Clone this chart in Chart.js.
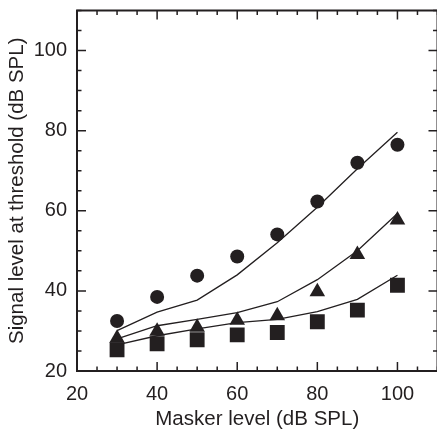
<!DOCTYPE html>
<html>
<head>
<meta charset="utf-8">
<script src="https://cdn.jsdelivr.net/npm/chart.js@4.4.1/dist/chart.umd.min.js"></script>
<style>
  html, body { margin: 0; padding: 0; background: #fff; overflow: hidden; }
  #wrap { width: 437px; height: 435px; overflow: hidden; }
  canvas { display: block; }
</style>
</head>
<body>
<div id="wrap"><canvas id="chart" width="448" height="435"></canvas></div>
<script>
// masker levels (dB SPL)
var masker = [30, 40, 50, 60, 70, 80, 90, 100];

// measured thresholds (symbols)
var circles   = [32.5, 38.5, 43.8, 48.6, 54.1, 62.3, 72.0, 76.5];
var triangles = [28.2, 29.9, 30.9, 32.7, 33.8, 39.8, 49.1, 57.7];
var squares   = [25.3, 26.8, 27.8, 29.0, 29.6, 32.3, 35.2, 41.4];

// model predictions (lines)
var modelUpper  = [30.1, 34.7, 37.7, 44.0, 52.0, 60.9, 70.5, 79.6];
var modelMiddle = [28.0, 31.3, 32.9, 34.6, 37.3, 42.8, 50.0, 59.3];
var modelLower  = [26.5, 28.8, 30.5, 32.1, 32.9, 34.8, 37.9, 43.9];

var xTicks = [20, 40, 60, 80, 100];
var yTicks = [20, 40, 60, 80, 100];

var INK = '#231f20';
var FONT = "'Liberation Sans', Arial, sans-serif";

function pts(ys) {
  return masker.map(function (x, i) { return { x: x, y: ys[i] }; });
}

function lineSet(ys) {
  return {
    type: 'line', data: pts(ys), borderColor: INK, borderWidth: 1.3,
    pointRadius: 0, fill: false, tension: 0, order: 2
  };
}

function markSet(ys, style, r) {
  return {
    type: 'scatter', data: pts(ys), pointStyle: style, pointRadius: r,
    pointHoverRadius: r, backgroundColor: INK, borderColor: INK,
    borderWidth: 0, showLine: false, order: 1
  };
}

// frame + inward major/minor tick marks on all four sides
var frameTicks = {
  id: 'frameTicks',
  afterDatasetsDraw: function (chart) {
    var ctx = chart.ctx, a = chart.chartArea;
    var sx = chart.scales.x, sy = chart.scales.y;
    ctx.save();
    ctx.strokeStyle = INK;
    ctx.lineWidth = 1.5;
    ctx.beginPath();
    for (var v = 20; v <= 110; v += 5) {
      var len = v % 20 === 0 ? 9 : 4.5;
      var px = sx.getPixelForValue(v);
      ctx.moveTo(px, a.bottom); ctx.lineTo(px, a.bottom - len);
      ctx.moveTo(px, a.top); ctx.lineTo(px, a.top + len);
      var py = sy.getPixelForValue(v);
      ctx.moveTo(a.left, py); ctx.lineTo(a.left + len, py);
      ctx.moveTo(a.right, py); ctx.lineTo(a.right - len, py);
    }
    ctx.stroke();
    ctx.lineWidth = 2;
    ctx.strokeRect(a.left, a.top, a.right - a.left, a.bottom - a.top);
    ctx.restore();
  }
};

function fixBox(size, horizontal) {
  return function (scale) {
    if (horizontal) scale.height = size; else scale.width = size;
    scale.paddingTop = 0; scale.paddingBottom = 0;
    scale.paddingLeft = 0; scale.paddingRight = 0;
  };
}

new Chart(document.getElementById('chart'), {
  type: 'scatter',
  data: {
    datasets: [
      lineSet(modelUpper),
      lineSet(modelMiddle),
      lineSet(modelLower),
      markSet(circles, 'circle', 7),
      markSet(triangles, 'triangle', 9),
      markSet(squares, 'rect', 10.5)
    ]
  },
  options: {
    responsive: false,
    animation: false,
    layout: { padding: { left: 0, top: 6, right: 7, bottom: 0 } },
    plugins: { legend: { display: false }, tooltip: { enabled: false } },
    scales: {
      x: {
        type: 'linear', min: 20, max: 110,
        grid: { display: false, drawTicks: false },
        border: { display: false },
        afterBuildTicks: function (s) { s.ticks = xTicks.map(function (v) { return { value: v }; }); },
        afterFit: fixBox(64, true),
        ticks: { color: INK, padding: 11, font: { family: FONT, size: 20 } },
        title: {
          display: true, text: 'Masker level (dB SPL)', color: INK,
          padding: { top: 0, bottom: 3 }, font: { family: FONT, size: 20.5 }
        }
      },
      y: {
        type: 'linear', min: 20, max: 110,
        grid: { display: false, drawTicks: false },
        border: { display: false },
        afterBuildTicks: function (s) { s.ticks = yTicks.map(function (v) { return { value: v }; }); },
        afterFit: fixBox(77, false),
        ticks: { color: INK, padding: 10, font: { family: FONT, size: 20 } },
        title: {
          display: true, text: 'Signal level at threshold (dB SPL)', color: INK,
          padding: { top: 5, bottom: 0 }, font: { family: FONT, size: 20.5 }
        }
      }
    }
  },
  plugins: [frameTicks]
});
</script>
</body>
</html>
